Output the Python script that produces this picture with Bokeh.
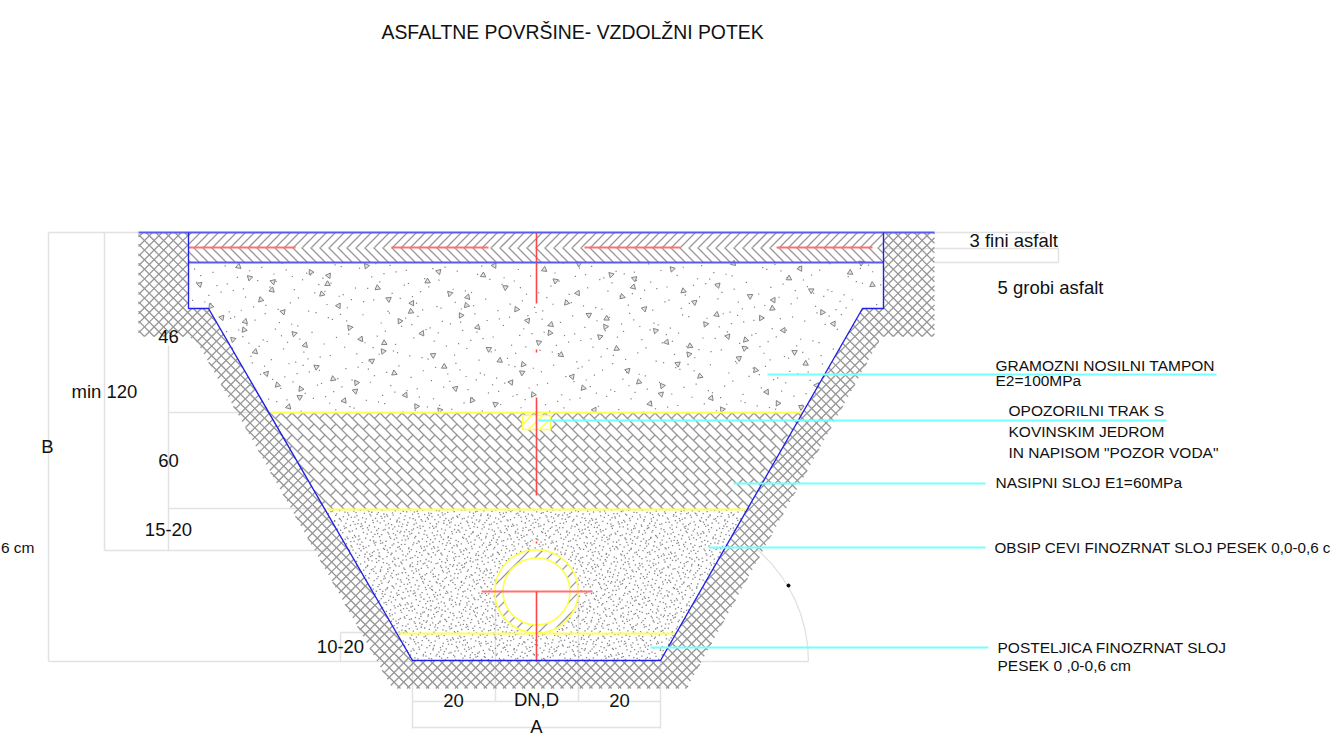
import math
import numpy as np
from bokeh.plotting import figure
from bokeh.core.properties import value
from bokeh.embed import file_html
from bokeh.resources import INLINE

# ---- geometry (page pixels) ----
trench_x = [188, 188, 208, 412, 660, 862, 883, 883]
trench_y = [232, 308, 308, 660, 660, 308, 308, 232]
soil_x = [138, 188, 188, 208, 412, 660, 862, 883, 883, 934, 934, 881, 686, 392, 197, 188, 138]
soil_y = [232, 232, 308, 308, 660, 660, 308, 308, 232, 232, 336, 336, 688, 688, 342, 336, 336]
fill_x = [268, 802, 746.6, 325]
fill_y = [412, 412, 509, 509]
gravel_x = [188, 883, 883, 862, 802, 268, 208, 188]
gravel_y = [262, 262, 308, 308, 412, 412, 308, 308]
sand_x = [325, 746.6, 660, 412]
sand_y = [509, 509, 660, 660]

blue_h_x0 = [138, 188]
blue_h_x1 = [934, 883]
blue_h_y = [232, 262]

yellow_x0 = [270, 325, 398]
yellow_x1 = [802, 746, 675]
yellow_y = [412, 509, 633]

red_h_x0 = [188, 391, 584, 776, 481]
red_h_x1 = [295, 488, 680, 872, 592]
red_h_y = [247, 247, 247, 247, 591]
red_v_x = [536, 536, 536, 536, 536]
red_v_y0 = [232, 349, 397, 541, 591]
red_v_y1 = [303, 352, 495, 543, 661]

cyan_x0 = [767, 537, 733, 708, 650]
cyan_x1 = [1216, 1166, 985, 985, 988]
cyan_y = [374, 420, 483, 547, 647]

dim_x0 = [48, 48, 104, 168, 168, 340, 412, 412, 934, 883, 48, 660, 104, 168, 340, 412, 660, 495, 578, 1058]
dim_y0 = [232, 661, 550, 412, 508, 632, 701, 727, 232, 248, 232, 661, 232, 345, 632, 661, 661, 591, 591, 248]
dim_x1 = [138, 412, 330, 277, 330, 405, 660, 660, 1045, 1058, 48, 808, 104, 168, 340, 412, 660, 495, 578, 1058]
dim_y1 = [232, 661, 550, 412, 508, 632, 701, 727, 232, 248, 661, 661, 550, 550, 661, 728, 728, 701, 701, 262]
dim2_x0 = [934]
dim2_x1 = [1058]
dim2_y = [262]

pipe_x, pipe_y, pipe_outer, pipe_inner = 536, 591, 41.7, 33.5
tape_x = [522, 550, 550, 522]
tape_y = [415, 415, 429, 429]
arc_x, arc_y, arc_r = 660, 661, 148
arc_end = 0.87
dot_x, dot_y = [788], [585]

title_text = ["ASFALTNE POVRŠINE- VZDOLŽNI POTEK"]
title_x, title_y = [381], [31]

narrow_text = ["3 fini asfalt", "5 grobi asfalt", "46", "min 120", "B", "60", "15-20", "10-20", "20", "DN,D", "20", "A"]
narrow_x = [969, 997, 168, 104, 47, 168, 168, 340, 453, 536, 619, 536]
narrow_y = [240, 287, 336, 391, 446, 460, 529, 646, 700, 699, 700, 726]
narrow_align = ["left", "left", "center", "center", "center", "center", "center", "center", "center", "center", "center", "center"]

note_text = ["GRAMOZNI NOSILNI TAMPON", "E2=100MPa", "OPOZORILNI TRAK S", "KOVINSKIM JEDROM",
             'IN NAPISOM "POZOR VODA"', "NASIPNI SLOJ E1=60MPa", "POSTELJICA FINOZRNAT SLOJ",
             "PESEK  0 ,0-0,6  cm", "6 cm"]
note_x = [995, 995, 1008, 1008, 1008, 995, 997, 997, 34]
note_y = [365, 380, 410, 431, 452, 482, 647, 665, 547]
note_align = ["left"] * 8 + ["right"]
long_note_text = ["OBSIP CEVI FINOZRNAT SLOJ PESEK 0,0-0,6 c"]
long_note_x, long_note_y = [994], [547]

FONT = "Liberation Sans"


def inside(px, py, poly):
    c = False
    n = len(poly)
    for i in range(n):
        x1, y1 = poly[i]
        x2, y2 = poly[(i + 1) % n]
        if (y1 > py) != (y2 > py) and px < x1 + (py - y1) * (x2 - x1) / (y2 - y1):
            c = not c
    return c


def clip(a, b, poly, xs, ys):
    """keep the parts of segment a-b that fall inside the polygon"""
    dx, dy = b[0] - a[0], b[1] - a[1]
    ts = [0.0, 1.0]
    n = len(poly)
    for i in range(n):
        x1, y1 = poly[i]
        x2, y2 = poly[(i + 1) % n]
        ex, ey = x2 - x1, y2 - y1
        den = dx * ey - dy * ex
        if abs(den) < 1e-9:
            continue
        t = ((x1 - a[0]) * ey - (y1 - a[1]) * ex) / den
        u = ((x1 - a[0]) * dy - (y1 - a[1]) * dx) / den
        if 0 < t < 1 and 0 <= u <= 1:
            ts.append(t)
    ts.sort()
    for t0, t1 in zip(ts[:-1], ts[1:]):
        tm = (t0 + t1) / 2
        if t1 - t0 > 1e-6 and inside(a[0] + dx * tm, a[1] + dy * tm, poly):
            xs.append([a[0] + dx * t0, a[0] + dx * t1])
            ys.append([a[1] + dy * t0, a[1] + dy * t1])


def diag_hatch(poly, step, slash=True, backslash=True, offset=0):
    xs, ys = [], []
    xv = [q[0] for q in poly]
    yv = [q[1] for q in poly]
    x0, x1, y0, y1 = min(xv), max(xv), min(yv), max(yv)
    if slash:
        for k in range(int((x0 + y0) // step), int((x1 + y1) // step) + 2):
            s = k * step + offset
            clip((s - y0, y0), (s - y1, y1), poly, xs, ys)
    if backslash:
        for k in range(int((x0 - y1) // step), int((x1 - y0) // step) + 2):
            d = k * step + offset
            clip((d + y0, y0), (d + y1, y1), poly, xs, ys)
    return xs, ys


def brick_hatch(poly, S, D):
    """long back-slanted courses with staggered short cross joints"""
    xs, ys = diag_hatch(poly, S, False, True)
    xv = [q[0] for q in poly]
    yv = [q[1] for q in poly]
    for k in range(int((min(xv) - max(yv)) // S), int((max(xv) - min(yv)) // S) + 2):
        for j in range(int((min(xv) + min(yv)) // (2 * D)), int((max(xv) + max(yv)) // (2 * D)) + 2):
            s = j * 2 * D + (k % 2) * D
            d0, d1 = k * S, (k + 1) * S
            clip(((s + d0) / 2, (s - d0) / 2), ((s + d1) / 2, (s - d1) / 2), poly, xs, ys)
    return xs, ys


def halton(i, base):
    f, r = 1.0, 0.0
    while i > 0:
        f /= base
        r += f * (i % base)
        i //= base
    return r


def stipple(poly, count, b1, b2):
    """low-discrepancy speckle texture filling a polygon"""
    xv = [q[0] for q in poly]
    yv = [q[1] for q in poly]
    out_x, out_y = [], []
    i = 1
    while len(out_x) < count:
        x = min(xv) + halton(i, b1) * (max(xv) - min(xv))
        y = min(yv) + halton(i, b2) * (max(yv) - min(yv))
        i += 1
        if inside(x, y, poly):
            out_x.append(x)
            out_y.append(y)
    return out_x, out_y


p = figure(width=1335, height=737, x_range=(0, 1335), y_range=(737, 0),
           x_axis_location=None, y_axis_location=None, toolbar_location=None,
           output_backend="svg", min_border=0, outline_line_color=None,
           background_fill_color="white", border_fill_color="white")
p.grid.visible = False

GREY = "#979797"
DIM = "#e2e2e2"

# dimension lines
p.segment(dim_x0, dim_y0, dim_x1, dim_y1, line_color=DIM, line_width=1.5)
p.segment(dim2_x0, dim2_y, dim2_x1, dim2_y, line_color=DIM, line_width=1.5)
p.arc([arc_x], [arc_y], radius=arc_r, start_angle=0, end_angle=arc_end, line_color=DIM, line_width=1.3)
p.scatter(dot_x, dot_y, size=3, color="black")

# natural soil cross hatch
soil = list(zip(soil_x, soil_y))
xs, ys = diag_hatch(soil, 9.6)
p.multi_line(xs, ys, line_color=GREY, line_width=1.3)

# asphalt herringbone
up = [(188, 232), (883, 232), (883, 247), (188, 247)]
lo = [(188, 247), (883, 247), (883, 262), (188, 262)]
xs, ys = diag_hatch(up, 9, True, False)
p.multi_line(xs, ys, line_color=GREY, line_width=1.3)
xs, ys = diag_hatch(lo, 9, False, True)
p.multi_line(xs, ys, line_color=GREY, line_width=1.3)

# gravel
gravel = list(zip(gravel_x, gravel_y))
gx, gy = stipple(gravel, 560, 2, 3)
p.scatter(gx, gy, size=1.2, marker="square", color="#808080", line_color=None)
tx, ty = stipple(gravel, 135, 5, 7)
p.scatter(tx, ty, size=5.5, marker="triangle", fill_color="#e4e4e4", line_color="#777777", line_width=0.9,
          angle=[(i * 2.4) % 6.28 for i in range(len(tx))])

# embankment layer
xs, ys = brick_hatch(list(zip(fill_x, fill_y)), 11, 11)
p.multi_line(xs, ys, line_color=GREY, line_width=1.3)

# sand
sx, sy = stipple(list(zip(sand_x, sand_y)), 3000, 2, 3)
p.scatter(sx, sy, size=1.3, marker="square", color="#868686", line_color=None)

# pipe
p.circle([pipe_x], [pipe_y], radius=pipe_outer, fill_color="white", line_color=None)
ring = [(pipe_x + pipe_outer * math.cos(a), pipe_y + pipe_outer * math.sin(a)) for a in np.linspace(0, 2 * math.pi, 90)[:-1]]
xs, ys = diag_hatch(ring, 13, True, False)
p.multi_line(xs, ys, line_color=GREY, line_width=1.3)
p.circle([pipe_x], [pipe_y], radius=pipe_outer, fill_color=None, line_color="#ffff44", line_width=1.6)
p.circle([pipe_x], [pipe_y], radius=pipe_inner, fill_color="white", line_color="#ffff44", line_width=1.6)

# warning tape
tape = list(zip(tape_x, tape_y))
p.patch(tape_x, tape_y, fill_color="white", line_color="#ffff44", line_width=1.5)
xs, ys = diag_hatch(tape, 11, True, False)
p.multi_line(xs, ys, line_color="#ffff44", line_width=1.5)

# layer lines
p.segment(yellow_x0, yellow_y, yellow_x1, yellow_y, line_color="#ffff55", line_width=2)
p.segment(red_h_x0, red_h_y, red_h_x1, red_h_y, line_color="#ff7070", line_width=2)
p.segment(red_v_x, red_v_y0, red_v_x, red_v_y1, line_color="#ff4545", line_width=1.6)
p.segment(blue_h_x0, blue_h_y, blue_h_x1, blue_h_y, line_color="#5a5af0", line_width=2)
p.line(trench_x, trench_y, line_color="#2222e6", line_width=1.4)
p.segment(cyan_x0, cyan_y, cyan_x1, cyan_y, line_color="#77ffff", line_width=2)

# texts
p.text(title_x, title_y, text=title_text, text_font=value(FONT), text_font_size="19.4px",
       text_baseline="middle", text_color="#111111")
p.text(narrow_x, narrow_y, text=narrow_text, text_font=value(FONT), text_font_size="18.5px",
       text_align=narrow_align, text_baseline="middle", text_color="#111111")
p.text(note_x, note_y, text=note_text, text_font=value(FONT), text_font_size="15.5px",
       text_align=note_align, text_baseline="middle", text_color="#111111")
p.text(long_note_x, long_note_y, text=long_note_text, text_font=value(FONT), text_font_size="15.2px",
       text_baseline="middle", text_color="#111111")

open("out.html", "w").write(file_html(p, INLINE))
